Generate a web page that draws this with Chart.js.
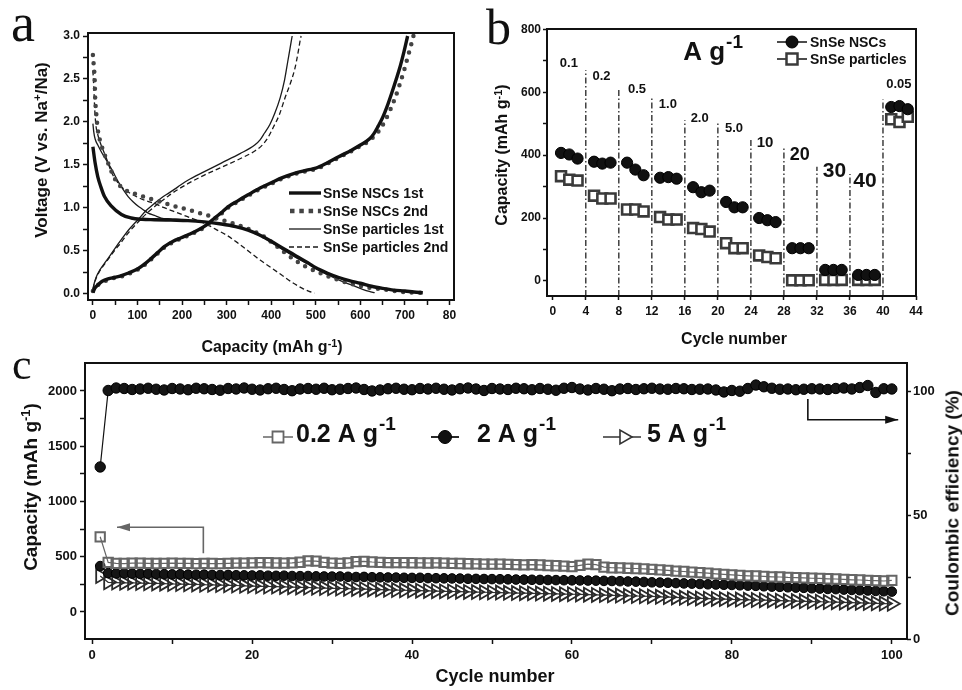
<!DOCTYPE html>
<html><head><meta charset="utf-8">
<script src="https://cdn.jsdelivr.net/npm/chart.js@4.4.1/dist/chart.umd.min.js"></script>
<style>
html,body{margin:0;padding:0;background:#fff;}
body{width:962px;height:690px;position:relative;overflow:hidden;font-family:"Liberation Sans",Arial,sans-serif;}
canvas{position:absolute;}
.t{position:absolute;font-weight:bold;white-space:nowrap;color:#111;line-height:1;}
.rot{transform:translate(-50%,-50%) rotate(-90deg);}
.ctr{transform:translate(-50%,-50%);}
sup{font-size:0.68em;vertical-align:0.5em;line-height:0;}
.letter{position:absolute;font-family:"Liberation Serif","DejaVu Serif",serif;line-height:1;color:#111;}
</style></head><body>
<canvas id="ca" width="470" height="360" style="left:0;top:0"></canvas>
<canvas id="cb" width="492" height="340" style="left:470px;top:0"></canvas>
<canvas id="cc" width="962" height="360" style="left:0;top:330px"></canvas>

<div class="letter" style="left:11px;top:-4px;font-size:54px">a</div>
<div class="letter" style="left:486px;top:2px;font-size:50px">b</div>
<div class="letter" style="left:12px;top:343px;font-size:44px">c</div>
<div class="t rot" style="left:41px;top:150px;font-size:17px">Voltage (V vs. Na<sup>+</sup>/Na)</div>
<div class="t ctr" style="left:272px;top:347px;font-size:16px">Capacity (mAh g<sup>-1</sup>)</div>
<div class="t rot" style="left:502px;top:155px;font-size:16px">Capacity (mAh g<sup>-1</sup>)</div>
<div class="t ctr" style="left:734px;top:339px;font-size:16px">Cycle number</div>
<div class="t ctr" style="left:495px;top:676px;font-size:18px">Cycle number</div>
<div class="t rot" style="left:30px;top:487px;font-size:19px">Capacity (mAh g<sup>-1</sup>)</div>
<div class="t rot" style="left:952px;top:503px;font-size:19px">Coulombic efficiency (%)</div>

<script>
// ---------------- DATA ----------------
// Panel a: galvanostatic profiles [capacity (mAh/g), voltage (V)]
const aSeriesNames = ['SnSe NSCs 1st', 'SnSe NSCs 2nd', 'SnSe particles 1st', 'SnSe particles 2nd'];
const nscs1Dis = [[0,1.71],[5,1.52],[11,1.36],[18,1.24],[26,1.13],[41,1.02],[64,0.92],[86,0.88],[110,0.865],[138,0.86],[175,0.855],[213,0.85],[250,0.835],[288,0.81],[320,0.78],[348,0.74],[375,0.68],[400,0.61],[425,0.53],[452,0.45],[482,0.36],[500,0.30],[525,0.24],[550,0.19],[575,0.15],[600,0.12],[625,0.085],[650,0.06],[675,0.04],[700,0.03],[720,0.018],[740,0.01]];
const nscs1Chg = [[0,0.01],[4,0.06],[11,0.10],[20,0.14],[34,0.17],[50,0.19],[64,0.21],[80,0.24],[101,0.29],[115,0.34],[131,0.41],[146,0.48],[161,0.55],[180,0.61],[198,0.65],[216,0.69],[236,0.74],[255,0.80],[273,0.88],[290,0.95],[303,1.01],[325,1.08],[348,1.15],[375,1.23],[400,1.29],[425,1.35],[452,1.40],[482,1.44],[500,1.46],[525,1.52],[550,1.59],[580,1.67],[600,1.73],[620,1.80],[630,1.86],[640,1.95],[650,2.05],[660,2.18],[670,2.33],[680,2.49],[690,2.66],[698,2.82],[706,3.0]];
const nscs2Dis = [[0,2.78],[2,2.65],[4,2.5],[5,2.3],[7.5,2.1],[11,1.91],[19,1.73],[34,1.52],[49,1.34],[60,1.26],[71,1.21],[85,1.18],[101,1.15],[120,1.12],[138,1.09],[157,1.06],[176,1.03],[195,1.0],[213,0.98],[232,0.95],[251,0.92],[270,0.89],[288,0.86],[307,0.83],[325,0.80],[345,0.76],[363,0.72],[382,0.67],[400,0.60],[420,0.52],[437,0.45],[456,0.38],[475,0.32],[500,0.26],[525,0.205],[550,0.16],[575,0.12],[600,0.09],[625,0.065],[650,0.05],[675,0.03],[700,0.018],[720,0.012],[735,0.008]];
const nscs2Chg = [[0,0.03],[4,0.07],[11,0.1],[20,0.13],[34,0.16],[50,0.185],[64,0.2],[80,0.23],[101,0.28],[115,0.33],[131,0.40],[146,0.47],[161,0.54],[180,0.60],[198,0.64],[216,0.68],[236,0.73],[255,0.79],[273,0.87],[290,0.94],[303,1.0],[325,1.07],[348,1.14],[375,1.22],[400,1.28],[425,1.34],[452,1.39],[482,1.43],[500,1.45],[525,1.51],[550,1.58],[580,1.66],[600,1.72],[620,1.78],[632,1.84],[645,1.92],[656,2.02],[667,2.14],[678,2.28],[689,2.45],[698,2.6],[706,2.75],[713,2.88],[719,3.0]];
const partDis1 = [[0,1.98],[2,1.88],[5,1.8],[11,1.73],[20,1.64],[34,1.52],[45,1.42],[56,1.31],[68,1.21],[79,1.13],[90,1.07],[101,1.02],[112,0.98],[123,0.94],[138,0.91],[153,0.88],[175,0.87],[198,0.86],[225,0.845],[251,0.83],[277,0.815],[303,0.80],[330,0.765],[355,0.72],[380,0.66],[405,0.58],[430,0.50],[455,0.42],[480,0.35],[505,0.28],[530,0.21],[555,0.15],[580,0.10],[605,0.05],[620,0.025],[632,0.01]];
const partDis2 = [[0,2.6],[2,2.4],[4,2.15],[7,1.95],[11,1.85],[19,1.72],[30,1.58],[41,1.42],[52,1.32],[65,1.24],[80,1.18],[101,1.12],[120,1.08],[138,1.05],[160,1.0],[180,0.96],[200,0.92],[225,0.87],[250,0.82],[275,0.75],[300,0.68],[325,0.59],[350,0.49],[375,0.39],[400,0.30],[425,0.21],[450,0.12],[470,0.06],[485,0.025],[497,0.005]];
const partChg1 = [[0,0.05],[3,0.12],[8,0.2],[15,0.27],[30,0.38],[50,0.53],[64,0.63],[80,0.74],[101,0.86],[120,0.97],[138,1.05],[155,1.12],[170,1.17],[190,1.24],[213,1.32],[250,1.42],[288,1.52],[330,1.63],[363,1.73],[375,1.79],[385,1.87],[397,1.97],[408,2.1],[420,2.28],[430,2.49],[437,2.7],[442,2.85],[447,3.0]];
const partChg2 = [[0,0.05],[3,0.11],[8,0.19],[15,0.26],[30,0.37],[50,0.51],[64,0.6],[80,0.71],[101,0.83],[120,0.93],[138,1.01],[155,1.08],[170,1.14],[190,1.21],[213,1.28],[250,1.38],[288,1.47],[330,1.57],[363,1.66],[380,1.73],[393,1.82],[405,1.94],[418,2.08],[431,2.28],[443,2.45],[453,2.62],[460,2.8],[465,2.95],[467,3.0]];
const aXTicks = [0,50,100,150,200,250,300,350,400,450,500,550,600,650,700,750,800];
const aXMajor = [0,100,200,300,400,500,600,700,800];
const aXLabels = ['0','100','200','300','400','500','600','700','80'];
const aYTicks = [0,0.25,0.5,0.75,1,1.25,1.5,1.75,2,2.25,2.5,2.75,3];
const aYMajor = [0,0.5,1,1.5,2,2.5,3];
const aYLabels = ['0.0','0.5','1.0','1.5','2.0','2.5','3.0'];

// Panel b: rate capability
const bSeriesNames = ['SnSe NSCs', 'SnSe particles'];
const rateCycles = [1,2,3,5,6,7,9,10,11,13,14,15,17,18,19,21,22,23,25,26,27,29,30,31,33,34,35,37,38,39,41,42,43];
const nscsRate = [407,402,389, 379,373,376, 376,354,336, 328,330,325, 298,282,287, 251,234,234, 200,193,187, 104,104,104, 35,35,35, 19,19,19, 553,556,546];
const particleRate = [333,322,319, 271,262,262, 227,227,221, 203,195,195, 168,165,157, 120,104,104, 81,76,72, 2,2,2, 3,3,3, 3,3,3, 514,505,522];
const sepX = [4,8,12,16,20,24,28,32,36,40];
const sepTop = [670,612,580,511,506,448,421,363,340,577];
const rateLabels = ['0.1','0.2','0.5','1.0','2.0','5.0','10','20','30','40','0.05'];
const bXTicks = [0,4,8,12,16,20,24,28,32,36,40,44];
const bYTicks = [0,100,200,300,400,500,600,700,800];
const bYMajor = [0,200,400,600,800];

// Panel c: long-term cycling
const cSeriesNames = ['0.2 A g', '2 A g', '5 A g'];
const cap02 = [680,448,440,438,441,442,440,438,440,441, 440,439,437,440,438,437,440,442,441,444,
  446,445,443,442,444,450,462,460,448,442, 440,443,455,458,452,448,447,446,446,445,
  444,443,444,442,440,438,436,435,433,432, 433,430,428,426,428,425,420,418,414,410,
  422,432,428,405,400,398,395,393,390,385, 380,376,370,366,360,355,351,345,340,335,
  330,327,325,321,318,316,312,310,308,305, 303,300,298,294,291,289,285,283,280,285];
const cap2 = [415,352,349,350,347,345,346,343,342,340, 341,338,337,338,335,334,335,332,331,330,
  331,328,327,328,325,324,325,322,321,320, 321,318,316,317,314,313,312,311,309,308,
  309,306,305,304,303,302,300,299,298,297, 296,295,293,292,291,290,289,288,287,286,
  285,284,283,281,280,278,276,274,271,268, 266,264,261,258,256,253,250,248,246,244,
  241,238,236,232,229,227,223,220,218,214, 211,208,206,202,199,196,194,190,187,184];
const cap5 = [325,268,266,263,264,261,259,258,256,253, 252,250,249,246,245,243,241,239,236,234,
  232,230,229,226,224,222,221,218,216,214, 212,210,208,206,204,202,200,198,196,193,
  192,190,188,186,185,183,181,180,178,176, 175,173,171,170,168,166,165,163,161,160,
  158,156,154,152,150,148,146,144,142,140, 137,134,131,128,125,122,120,118,116,113,
  112,110,108,106,104,102,100,98,96,94, 92,90,88,86,84,82,80,78,76,74];
const ceValues = [69.5,100.4,101.4,101.2,100.8,101.0,101.3,100.9,100.6,101.2,
  101.0,100.7,101.3,101.1,100.8,100.5,101.2,101.0,101.4,100.9,
  100.6,101.1,101.3,100.8,100.3,101.0,101.2,100.9,101.3,100.7,
  100.9,101.2,101.4,100.8,100.2,100.6,101.1,101.3,100.9,100.7,
  101.2,101.0,101.3,100.9,100.6,101.1,101.4,101.0,100.4,101.2,
  101.0,100.8,101.3,101.1,100.7,101.2,100.9,100.5,101.3,101.6,
  101.0,100.6,101.2,100.9,100.3,101.0,101.2,100.8,101.1,101.3,
  101.0,100.9,101.2,101.1,100.8,100.9,101.0,100.6,99.8,100.4,
  100.1,101.2,102.6,101.9,101.3,100.9,101.0,100.7,100.9,101.1,
  101.0,100.8,101.2,101.4,101.0,101.6,102.4,99.6,101.1,101.0];
const cXTicks = [0,10,20,30,40,50,60,70,80,90,100];
const cXMajor = [0,20,40,60,80,100];
const cYTicks = [0,250,500,750,1000,1250,1500,1750,2000];
const cYMajor = [0,500,1000,1500,2000];
const cY2Ticks = [0,25,50,75,100];
const cY2Major = [0,50,100];

// ---------------- SETUP ----------------
const FONT = "'Liberation Sans', Arial, Helvetica, sans-serif";
Chart.defaults.font.family = FONT;
Chart.defaults.font.weight = 'bold';
Chart.defaults.color = '#111';
Chart.defaults.animation = false;
Chart.defaults.events = [];
Chart.defaults.plugins.legend.display = false;
Chart.defaults.plugins.tooltip.enabled = false;

const pts = arr => arr.map(p => ({x: p[0], y: p[1]}));
const zipXY = (xs, ys) => xs.map((x, i) => ({x, y: ys[i]}));
const cycles = cap02.map((_, i) => i + 1);

function mkScale(o) {
  return {
    type: 'linear', position: o.pos, min: o.min, max: o.max,
    afterBuildTicks: s => { s.ticks = o.ticks.map(v => ({value: v})); },
    afterFit: s => { if (o.w != null) s.width = o.w; if (o.h != null) s.height = o.h; },
    ticks: {
      autoSkip: false, maxRotation: 0, minRotation: 0, padding: o.pad, color: '#111',
      font: {size: o.size, weight: 'bold', family: FONT},
      callback: v => { const k = o.major.indexOf(v); return k < 0 ? '' : (o.labels ? o.labels[k] : String(v)); }
    },
    grid: {display: true, drawOnChartArea: false, drawTicks: true, tickLength: o.tl, tickWidth: 1.5, tickColor: '#111'},
    border: {display: false}
  };
}
function frame(chart) {
  const {ctx, chartArea: a} = chart;
  ctx.save(); ctx.strokeStyle = '#111'; ctx.lineWidth = 2;
  ctx.strokeRect(a.left, a.top, a.right - a.left, a.bottom - a.top); ctx.restore();
}
function marker(ctx, type, x, y, r, fill, stroke, lw) {
  ctx.save(); ctx.beginPath();
  if (type === 'circle') ctx.arc(x, y, r, 0, Math.PI * 2);
  else if (type === 'rect') ctx.rect(x - r, y - r, 2 * r, 2 * r);
  else { ctx.moveTo(x + r, y); ctx.lineTo(x - r * 0.5, y - r * 0.87); ctx.lineTo(x - r * 0.5, y + r * 0.87); ctx.closePath(); }
  if (fill) { ctx.fillStyle = fill; ctx.fill(); }
  if (stroke) { ctx.strokeStyle = stroke; ctx.lineWidth = lw; ctx.stroke(); }
  ctx.restore();
}
function rich(ctx, x, y, main, sup, size, supSize, raise) {
  ctx.save(); ctx.fillStyle = '#111'; ctx.textBaseline = 'alphabetic'; ctx.textAlign = 'left';
  ctx.font = 'bold ' + size + 'px ' + FONT; ctx.fillText(main, x, y);
  const w = ctx.measureText(main).width;
  if (sup) { ctx.font = 'bold ' + supSize + 'px ' + FONT; ctx.fillText(sup, x + w + 1, y - raise); }
  ctx.restore();
}
function hline(ctx, x1, x2, y, color, w, dash, cap) {
  ctx.save(); ctx.strokeStyle = color; ctx.lineWidth = w; ctx.setLineDash(dash || []); ctx.lineCap = cap || 'butt';
  ctx.beginPath(); ctx.moveTo(x1, y); ctx.lineTo(x2, y); ctx.stroke(); ctx.restore();
}

// ---------------- PANEL A ----------------
const aStyles = [
  {color: '#111', width: 3.4, dash: [], cap: 'butt'},
  {color: '#444', width: 4.5, dash: [0, 8.5], cap: 'round'},
  {color: '#1a1a1a', width: 1.3, dash: [], cap: 'butt'},
  {color: '#1a1a1a', width: 1.3, dash: [5, 3], cap: 'butt'}
];
const aCurves = [[nscs1Dis, 0], [nscs1Chg, 0], [nscs2Dis, 1], [nscs2Chg, 1], [partDis1, 2], [partChg1, 2], [partDis2, 3], [partChg2, 3]];
new Chart(document.getElementById('ca'), {
  type: 'line',
  data: {datasets: aCurves.map(([arr, s]) => ({
    label: aSeriesNames[s], data: pts(arr), borderColor: aStyles[s].color, borderWidth: aStyles[s].width,
    borderDash: aStyles[s].dash, borderCapStyle: aStyles[s].cap, pointRadius: 0,
    cubicInterpolationMode: 'monotone', fill: false
  }))},
  options: {
    responsive: false, devicePixelRatio: 1,
    layout: {padding: {top: 33, right: 16, left: 0, bottom: 0}, autoPadding: false},
    scales: {
      x: mkScale({pos: 'bottom', min: -11, max: 810, ticks: aXTicks, major: aXMajor, labels: aXLabels, size: 12, pad: 3, tl: 5, h: 60}),
      y: mkScale({pos: 'left', min: -0.075, max: 3.035, ticks: aYTicks, major: aYMajor, labels: aYLabels, size: 12, pad: 3, tl: 5, w: 88})
    }
  },
  plugins: [{id: 'aDecor', afterDraw(chart) {
    const ctx = chart.ctx; frame(chart);
    const rows = [193, 211, 229, 247];
    aSeriesNames.forEach((name, i) => {
      const st = aStyles[i];
      if (i === 1) hline(ctx, 290, 321, rows[i], '#444', 4.5, [4.5, 4.8], 'butt');
      else hline(ctx, 289, 321, rows[i], st.color, st.width, st.dash, st.cap);
      ctx.save(); ctx.font = 'bold 14px ' + FONT; ctx.fillStyle = '#111'; ctx.textBaseline = 'alphabetic';
      ctx.fillText(name, 323, rows[i] + 5); ctx.restore();
    });
  }}]
});

// ---------------- PANEL B ----------------
const bYMin = -48;
const sepSets = sepX.map((x, i) => ({
  data: [{x, y: bYMin}, {x, y: sepTop[i]}], borderColor: '#222', borderWidth: 1.3,
  borderDash: [6, 2.5, 1.5, 2.5], pointRadius: 0, fill: false
}));
new Chart(document.getElementById('cb'), {
  type: 'line',
  data: {datasets: [
    {label: bSeriesNames[0], data: zipXY(rateCycles, nscsRate), showLine: false, pointStyle: 'circle', pointRadius: 5.6,
      pointBackgroundColor: '#111', pointBorderColor: '#000', pointBorderWidth: 1},
    {label: bSeriesNames[1], data: zipXY(rateCycles, particleRate), showLine: false, pointStyle: 'rect', pointRadius: 7,
      pointBackgroundColor: '#fff', pointBorderColor: '#3a3a3a', pointBorderWidth: 2.6},
    ...sepSets
  ]},
  options: {
    responsive: false, devicePixelRatio: 1,
    layout: {padding: {top: 29, right: 46, left: 0, bottom: 0}, autoPadding: false},
    scales: {
      x: mkScale({pos: 'bottom', min: -0.7, max: 44, ticks: bXTicks, major: bXTicks, size: 12, pad: 4, tl: 4, h: 44}),
      y: mkScale({pos: 'left', min: bYMin, max: 801, ticks: bYTicks, major: bYMajor, size: 12, pad: 2, tl: 4, w: 77})
    }
  },
  plugins: [{id: 'bDecor', afterDraw(chart) {
    const ctx = chart.ctx, xs = chart.scales.x, ys = chart.scales.y; frame(chart);
    const spots = [[0.85,680,13],[4.8,638,13],[9.1,596,13],[12.85,549,13],[16.7,506,13],[20.85,474,13],[24.7,426,15],[28.7,384,18],[32.7,331,21],[36.4,299,21],[40.4,612,13]];
    rateLabels.forEach((t, i) => {
      const [x, y, s] = spots[i];
      ctx.save(); ctx.font = 'bold ' + s + 'px ' + FONT; ctx.fillStyle = '#111';
      ctx.fillText(t, xs.getPixelForValue(x), ys.getPixelForValue(y)); ctx.restore();
    });
    rich(ctx, xs.getPixelForValue(15.8), ys.getPixelForValue(702), 'A g', '-1', 26, 19, 12);
    // legend
    hline(ctx, 307, 337, 42, '#111', 1.5);
    marker(ctx, 'circle', 322, 42, 6, '#111', '#000', 1);
    hline(ctx, 307, 337, 59, '#111', 1.5);
    marker(ctx, 'rect', 322, 59, 5.5, '#fff', '#3a3a3a', 2.5);
    ctx.save(); ctx.font = 'bold 14px ' + FONT; ctx.fillStyle = '#111';
    ctx.fillText(bSeriesNames[0], 340, 47); ctx.fillText(bSeriesNames[1], 340, 64); ctx.restore();
  }}]
});

// ---------------- PANEL C ----------------
new Chart(document.getElementById('cc'), {
  type: 'line',
  data: {datasets: [
    {label: 'CE', data: zipXY(cycles, ceValues), yAxisID: 'y2', borderColor: '#111', borderWidth: 1.2,
      pointStyle: 'circle', pointRadius: 5.2, pointBackgroundColor: '#151515', pointBorderColor: '#000', pointBorderWidth: 1},
    {label: cSeriesNames[0], data: zipXY(cycles, cap02), yAxisID: 'y', borderColor: '#666', borderWidth: 1.2,
      pointStyle: 'rect', pointRadius: 6.6, pointBackgroundColor: 'rgba(255,255,255,0)', pointBorderColor: '#666', pointBorderWidth: 2},
    {label: cSeriesNames[1], data: zipXY(cycles, cap2), yAxisID: 'y', borderColor: '#111', borderWidth: 1.2,
      pointStyle: 'circle', pointRadius: 4.8, pointBackgroundColor: '#151515', pointBorderColor: '#000', pointBorderWidth: 1},
    {label: cSeriesNames[2], data: zipXY(cycles, cap5), yAxisID: 'y', borderColor: '#333', borderWidth: 1.2,
      pointStyle: 'triangle', pointRadius: 8, pointRotation: 90, pointBackgroundColor: 'rgba(255,255,255,0)', pointBorderColor: '#2a2a2a', pointBorderWidth: 1.8}
  ]},
  options: {
    responsive: false, devicePixelRatio: 1,
    layout: {padding: {top: 33, right: 0, left: 0, bottom: 0}, autoPadding: false},
    scales: {
      x: mkScale({pos: 'bottom', min: -0.9, max: 101.9, ticks: cXTicks, major: cXMajor, size: 13, pad: 4, tl: 5, h: 51}),
      y: mkScale({pos: 'left', min: -245, max: 2253, ticks: cYTicks, major: cYMajor, size: 13, pad: 3, tl: 5, w: 85}),
      y2: mkScale({pos: 'right', min: 0, max: 111.5, ticks: cY2Ticks, major: cY2Major, size: 13, pad: 2, tl: 4, w: 55})
    }
  },
  plugins: [{id: 'cDecor', afterDraw(chart) {
    const ctx = chart.ctx, xs = chart.scales.x, ys = chart.scales.y, y2 = chart.scales.y2; frame(chart);
    function arrow(path, scale, color) {
      const p = path.map(([x, y]) => [xs.getPixelForValue(x), scale.getPixelForValue(y)]);
      ctx.save(); ctx.strokeStyle = color; ctx.fillStyle = color; ctx.lineWidth = 1.6;
      ctx.beginPath(); ctx.moveTo(p[0][0], p[0][1]); for (let i = 1; i < p.length; i++) ctx.lineTo(p[i][0], p[i][1]); ctx.stroke();
      const [x1, y1] = p[p.length - 2], [x2, y2p] = p[p.length - 1];
      const a = Math.atan2(y2p - y1, x2 - x1), L = 13, W = 4, c = Math.cos(a), s = Math.sin(a);
      ctx.beginPath(); ctx.moveTo(x2, y2p); ctx.lineTo(x2 - L * c + W * s, y2p - L * s - W * c);
      ctx.lineTo(x2 - L * c - W * s, y2p - L * s + W * c); ctx.closePath(); ctx.fill(); ctx.restore();
    }
    arrow([[13.9, 530], [13.9, 766], [3.1, 766]], ys, '#666');
    arrow([[89.5, 97], [89.5, 88.6], [100.8, 88.6]], y2, '#111');
    // legend
    const ly = 107, tb = 112;
    hline(ctx, 263, 293, ly, '#666', 1.5);
    marker(ctx, 'rect', 278, ly, 5.5, '#fff', '#666', 1.8);
    rich(ctx, 296, tb, cSeriesNames[0], '-1', 25, 19, 12);
    hline(ctx, 431, 459, ly, '#111', 1.8);
    marker(ctx, 'circle', 445, ly, 6.5, '#111', '#000', 1);
    rich(ctx, 477, tb, cSeriesNames[1], '-1', 25, 19, 12);
    hline(ctx, 603, 641, ly, '#333', 1.5);
    marker(ctx, 'tri', 624, ly, 8, '#fff', '#333', 1.6);
    rich(ctx, 647, tb, cSeriesNames[2], '-1', 25, 19, 12);
  }}]
});
</script>
</body></html>
